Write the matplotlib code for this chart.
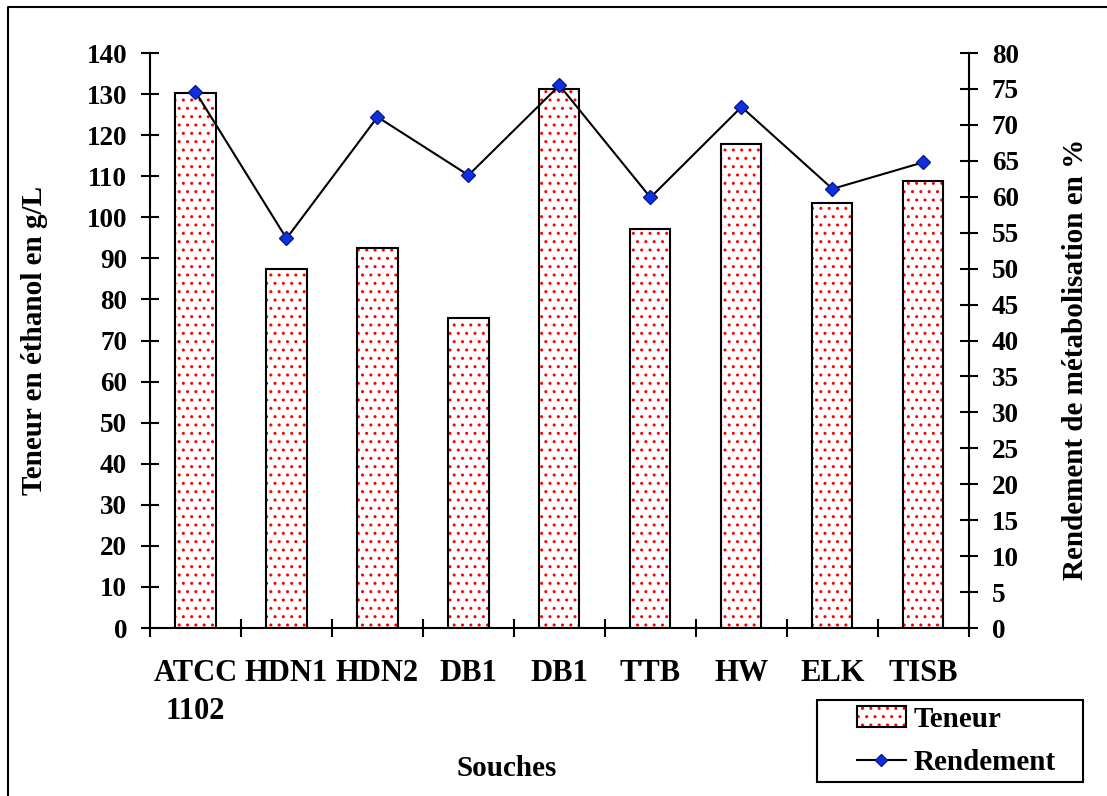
import matplotlib
matplotlib.use('Agg')
import matplotlib.pyplot as plt
from matplotlib.lines import Line2D
import numpy as np

# données
souches = ['ATCC\n1102', 'HDN1', 'HDN2', 'DB1', 'DB1', 'TTB', 'HW', 'ELK', 'TISB']
teneur = [130.3, 87.4, 92.5, 75.5, 131.2, 97.2, 117.8, 103.5, 108.8]
rendement = [74.6, 54.2, 71.1, 63.0, 75.5, 59.9, 72.5, 61.1, 64.8]

plt.rcParams['font.family'] = ['Liberation Serif', 'DejaVu Serif']
plt.rcParams['font.weight'] = 'bold'
plt.rcParams['font.size'] = 19.5

fig = plt.figure(figsize=(11.07, 7.96), dpi=100)
ax = fig.add_axes([0.1355, 0.211, 0.7398, 0.7224])
ax2 = ax.twinx()

x = np.arange(len(souches))

# barres : points rouges puis contour noir
ax.bar(x, teneur, width=0.44, facecolor='white', edgecolor='red',
       linewidth=0, hatch='..', zorder=2)
ax.bar(x, teneur, width=0.44, facecolor='none', edgecolor='black',
       linewidth=1.5, zorder=3)

ax2.plot(x, rendement, color='black', linewidth=1.5, marker='D',
         markersize=7, markerfacecolor='#1030e0', markeredgecolor='#0a1a90',
         zorder=4)

ax.set_xlim(-0.5, len(souches) - 0.5)
ax.set_ylim(0, 140)
ax2.set_ylim(0, 80)
ax.set_yticks(np.arange(0, 141, 10))
ax2.set_yticks(np.arange(0, 81, 5))

# graduations entre les catégories
ax.set_xticks(np.arange(-0.5, len(souches), 1))
ax.set_xticklabels([])
ax.set_xticks(x, minor=True)
ax.set_xticklabels(souches, minor=True, fontweight='bold', fontsize=22,
                   linespacing=1.45)
ax.tick_params(axis='x', which='minor', length=0, pad=22)
ax.tick_params(axis='x', which='major', direction='inout', length=13, width=1.5)
ax.tick_params(axis='y', direction='inout', length=13, width=1.5, pad=10)
ax2.tick_params(axis='y', direction='inout', length=13, width=1.5, pad=10)

for a in (ax, ax2):
    a.spines['top'].set_visible(False)
    for s in a.spines.values():
        s.set_linewidth(1.5)
ax2.spines['left'].set_visible(False)
ax2.spines['bottom'].set_visible(False)
ax.spines['right'].set_visible(False)

ax.set_xlabel('Souches', fontweight='bold', fontsize=21)
ax.xaxis.set_label_coords(0.436, -0.221)
ax.set_ylabel('Teneur en éthanol en g/L', fontweight='bold', fontsize=21)
ax.yaxis.set_label_coords(-0.125, 0.50)
ax2.set_ylabel('Rendement de métabolisation en %', fontweight='bold', fontsize=21)
ax2.yaxis.set_label_coords(1.114, 0.468)

# légende (cadre dessiné à part)
h_dots = plt.Rectangle((0, 0), 1, 1, facecolor='white', edgecolor='red',
                       hatch='..', linewidth=0)
h_box = plt.Rectangle((0, 0), 1, 1, facecolor='none', edgecolor='black',
                      linewidth=1.5)
h_line = Line2D([], [], color='black', linewidth=1.5, marker='D', markersize=6,
                markerfacecolor='#1030e0', markeredgecolor='#0a1a90')
leg = fig.legend([(h_dots, h_box), h_line], ['Teneur', 'Rendement'],
                 loc='center', bbox_to_anchor=(956 / 1107, 1 - 741 / 796),
                 frameon=False, fontsize=21, handlelength=1.7,
                 handletextpad=0.25, labelspacing=0.58, borderaxespad=0)
fig.add_artist(plt.Rectangle((817 / 1107, 14 / 796), 266 / 1107, 82 / 796,
                             transform=fig.transFigure, facecolor='none',
                             edgecolor='black', linewidth=1.5))

# cadre autour de la figure
fig.add_artist(Line2D([8 / 1107, 8 / 1107, 1.0], [0.0, 1 - 7 / 796, 1 - 7 / 796],
                      transform=fig.transFigure, color='black', linewidth=1.5))

fig.savefig('out.png', dpi=100)
